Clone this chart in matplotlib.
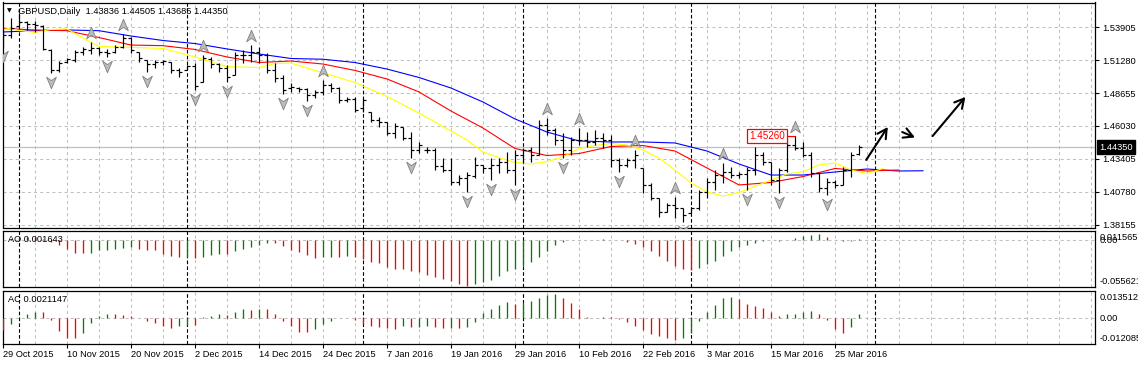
import matplotlib
matplotlib.use("Agg")
import matplotlib.pyplot as plt
from matplotlib.path import Path
from matplotlib.transforms import offset_copy, blended_transform_factory

plt.rcParams['font.family'] = ['Liberation Sans', 'DejaVu Sans']
plt.rcParams['lines.scale_dashes'] = False

# ---------------- data ----------------
symbol_title = "GBPUSD,Daily  1.43836 1.44505 1.43685 1.44350"

opens = [1.5247, 1.5327, 1.5398, 1.5430, 1.5414, 1.5398, 1.5208, 1.5048, 1.5112, 1.5128,
         1.5192, 1.5208, 1.5223, 1.5192, 1.5192, 1.5231, 1.5303, 1.5192, 1.5128, 1.5096,
         1.5112, 1.5112, 1.5048, 1.5048, 1.5080, 1.4953, 1.5136, 1.5096, 1.5064, 1.5009,
         1.5168, 1.5168, 1.5192, 1.5168, 1.5048, 1.4985, 1.4905, 1.4905, 1.4897, 1.4850,
         1.4874, 1.4929, 1.4905, 1.4810, 1.4818, 1.4746, 1.4714, 1.4651, 1.4635, 1.4547,
         1.4595, 1.4508, 1.4412, 1.4412, 1.4412, 1.4285, 1.4253, 1.4158, 1.4189, 1.4205,
         1.4293, 1.4269, 1.4293, 1.4317, 1.4253, 1.4372, 1.4412, 1.4372, 1.4611, 1.4571,
         1.4492, 1.4412, 1.4492, 1.4492, 1.4476, 1.4508, 1.4492, 1.4333, 1.4293, 1.4333,
         1.4269, 1.4134, 1.4030, 1.3919, 1.3975, 1.3951, 1.3911, 1.3951, 1.4078, 1.4158,
         1.4213, 1.4237, 1.4213, 1.4221, 1.4253, 1.4372, 1.4317, 1.4174, 1.4253, 1.4452,
         1.4428, 1.4372, 1.4229, 1.4110, 1.4158, 1.4134, 1.4253, 1.43836]
highs = [1.5367, 1.5462, 1.5502, 1.5438, 1.5438, 1.5406, 1.5216, 1.5120, 1.5144, 1.5208,
         1.5231, 1.5271, 1.5231, 1.5216, 1.5247, 1.5335, 1.5311, 1.5192, 1.5128, 1.5128,
         1.5128, 1.5112, 1.5064, 1.5088, 1.5104, 1.5168, 1.5152, 1.5104, 1.5088, 1.5192,
         1.5208, 1.5247, 1.5231, 1.5184, 1.5104, 1.5009, 1.4945, 1.4913, 1.4905, 1.4889,
         1.4969, 1.4945, 1.4913, 1.4834, 1.4834, 1.4826, 1.4714, 1.4675, 1.4635, 1.4627,
         1.4595, 1.4555, 1.4476, 1.4436, 1.4428, 1.4348, 1.4348, 1.4213, 1.4237, 1.4356,
         1.4293, 1.4348, 1.4348, 1.4396, 1.4412, 1.4428, 1.4436, 1.4651, 1.4667, 1.4587,
         1.4547, 1.4516, 1.4587, 1.4555, 1.4571, 1.4547, 1.4531, 1.4348, 1.4348, 1.4412,
         1.4269, 1.4150, 1.4030, 1.3991, 1.4038, 1.3951, 1.3959, 1.4094, 1.4189, 1.4253,
         1.4309, 1.4277, 1.4237, 1.4277, 1.4436, 1.4396, 1.4317, 1.4269, 1.4508, 1.4526,
         1.4476, 1.4396, 1.4229, 1.4189, 1.4174, 1.4277, 1.4396, 1.44505]
lows = [1.5231, 1.5303, 1.5383, 1.5367, 1.5351, 1.5208, 1.5025, 1.5033, 1.5104, 1.5112,
        1.5168, 1.5176, 1.5168, 1.5152, 1.5184, 1.5223, 1.5184, 1.5112, 1.5033, 1.5064,
        1.5088, 1.5025, 1.4993, 1.5048, 1.4889, 1.4953, 1.5064, 1.5033, 1.4953, 1.5009,
        1.5104, 1.5112, 1.5104, 1.5025, 1.4953, 1.4858, 1.4874, 1.4874, 1.4802, 1.4826,
        1.4850, 1.4874, 1.4786, 1.4794, 1.4714, 1.4714, 1.4635, 1.4595, 1.4531, 1.4508,
        1.4492, 1.4348, 1.4388, 1.4388, 1.4253, 1.4237, 1.4134, 1.4134, 1.4078, 1.4189,
        1.4229, 1.4174, 1.4229, 1.4229, 1.4134, 1.4309, 1.4317, 1.4372, 1.4531, 1.4452,
        1.4348, 1.4372, 1.4452, 1.4436, 1.4452, 1.4428, 1.4277, 1.4237, 1.4277, 1.4269,
        1.4070, 1.4014, 1.3879, 1.3919, 1.3871, 1.3839, 1.3911, 1.3935, 1.4030, 1.4094,
        1.4150, 1.4189, 1.4189, 1.4094, 1.4213, 1.4293, 1.4134, 1.4070, 1.4237, 1.4412,
        1.4356, 1.4197, 1.4078, 1.4054, 1.4110, 1.4134, 1.4197, 1.43685]
closes = [1.5327, 1.5383, 1.5430, 1.5414, 1.5406, 1.5216, 1.5048, 1.5104, 1.5136, 1.5192,
          1.5216, 1.5223, 1.5192, 1.5184, 1.5231, 1.5303, 1.5208, 1.5144, 1.5096, 1.5112,
          1.5120, 1.5048, 1.5033, 1.5080, 1.4921, 1.5144, 1.5096, 1.5064, 1.4993, 1.5168,
          1.5168, 1.5192, 1.5168, 1.5048, 1.4985, 1.4889, 1.4913, 1.4897, 1.4850, 1.4874,
          1.4929, 1.4905, 1.4810, 1.4818, 1.4730, 1.4810, 1.4651, 1.4635, 1.4547, 1.4603,
          1.4508, 1.4412, 1.4452, 1.4412, 1.4285, 1.4253, 1.4158, 1.4189, 1.4213, 1.4293,
          1.4269, 1.4293, 1.4317, 1.4253, 1.4372, 1.4412, 1.4372, 1.4611, 1.4571, 1.4492,
          1.4412, 1.4492, 1.4492, 1.4476, 1.4508, 1.4492, 1.4333, 1.4293, 1.4333, 1.4372,
          1.4134, 1.4030, 1.3919, 1.3975, 1.3951, 1.3895, 1.3951, 1.4078, 1.4158, 1.4213,
          1.4237, 1.4213, 1.4221, 1.4253, 1.4372, 1.4317, 1.4174, 1.4253, 1.4452, 1.4428,
          1.4372, 1.4229, 1.4110, 1.4158, 1.4134, 1.4253, 1.4372, 1.44350]

# Alligator lines (bar index, value)
jaw_bars = [0, 4, 8, 12, 16, 20, 24, 28, 32, 36, 40, 44, 48, 52, 56, 60, 64, 68, 72, 76,
            80, 84, 88, 92, 96, 100, 104, 108, 112, 115]
jaw_vals = [1.5351, 1.5361, 1.5367, 1.5361, 1.5319, 1.5283, 1.5259, 1.5216, 1.5176, 1.5140,
            1.5134, 1.5108, 1.5056, 1.4989, 1.4905, 1.4794, 1.4659, 1.4555, 1.4484, 1.4476,
            1.4476, 1.4468, 1.4404, 1.4301, 1.4213, 1.4213, 1.4237, 1.4261, 1.4245, 1.4247]
teeth_bars = [0, 4, 8, 12, 16, 20, 24, 28, 32, 36, 40, 44, 48, 52, 56, 60, 64, 68, 72, 76,
              80, 84, 88, 92, 96, 100, 104, 108, 112]
teeth_vals = [1.5379, 1.5367, 1.5361, 1.5307, 1.5247, 1.5242, 1.5212, 1.5152, 1.5108, 1.5120,
              1.5096, 1.5045, 1.4977, 1.4874, 1.4722, 1.4587, 1.4424, 1.4368, 1.4384, 1.4440,
              1.4448, 1.4404, 1.4269, 1.4134, 1.4154, 1.4201, 1.4265, 1.4245, 1.4253]
lips_bars = [0, 2, 4, 6, 8, 10, 12, 16, 20, 24, 28, 32, 34, 36, 40, 44, 48, 52, 56, 58,
             60, 62, 64, 66, 68, 70, 72, 74, 76, 78, 80, 82, 84, 86, 88, 90, 92, 94, 96, 98,
             100, 102, 104, 106, 108, 110]
lips_vals = [1.5387, 1.5363, 1.5347, 1.5371, 1.5375, 1.5303, 1.5235, 1.5229, 1.5220, 1.5152,
             1.5075, 1.5068, 1.5100, 1.5104, 1.5025, 1.4949, 1.4838, 1.4706, 1.4563, 1.4492,
             1.4396, 1.4352, 1.4313, 1.4301, 1.4319, 1.4359, 1.4424, 1.4448, 1.4464, 1.4452,
             1.4412, 1.4348, 1.4253, 1.4150, 1.4078, 1.4046, 1.4074, 1.4122, 1.4174, 1.4221,
             1.4240, 1.4293, 1.4309, 1.4253, 1.4225, 1.4265]

up_fractals = [11, 15, 25, 31, 40, 68, 72, 79, 84, 90, 99]
down_fractals = [0, 6, 13, 18, 24, 28, 35, 38, 51, 58, 61, 64, 70, 77, 85, 93, 97, 103]

ao_vals = [0.0003, 0.0015, 0.0030, 0.0040, 0.0035, 0.0010, -0.0020, -0.0053, -0.0101, -0.0147,
           -0.0154, -0.0147, -0.0122, -0.0114, -0.0101, -0.0090, -0.0084, -0.0101, -0.0114, -0.0117,
           -0.0166, -0.0183, -0.0199, -0.0195, -0.0208, -0.0195, -0.0175, -0.0162, -0.0166, -0.0134,
           -0.0101, -0.0086, -0.0061, -0.0032, -0.0035, -0.0073, -0.0114, -0.0142, -0.0175, -0.0208,
           -0.0205, -0.0196, -0.0200, -0.0187, -0.0195, -0.0227, -0.0257, -0.0276, -0.0318, -0.0337,
           -0.0340, -0.0366, -0.0379, -0.0419, -0.0440, -0.0460, -0.0489, -0.0520, -0.0550, -0.0520,
           -0.0501, -0.0468, -0.0428, -0.0366, -0.0337, -0.0305, -0.0257, -0.0195, -0.0126, -0.0061,
           -0.0020, 0.0003, 0.0008, 0.0002, -0.0003, 0.0010, 0.0004, -0.0003, -0.0020, -0.0044,
           -0.0086, -0.0134, -0.0183, -0.0244, -0.0309, -0.0337, -0.0358, -0.0330, -0.0288, -0.0248,
           -0.0183, -0.0126, -0.0086, -0.0061, -0.0032, -0.0012, 0.0003, -0.0010, 0.0005, 0.0029,
           0.0049, 0.0057, 0.0070, 0.0037, 0.0005, -0.0015, -0.0008, 0.001643]
ac_vals = [-0.0054, -0.0026, 0.0005, 0.0023, 0.0033, 0.0031, -0.0005, -0.0062, -0.0092, -0.0093,
           -0.0069, -0.0021, 0.0011, 0.0024, 0.0023, 0.0019, 0.0011, 0.0002, -0.0013, -0.0021,
           -0.0037, -0.0045, -0.0037, -0.0030, -0.0033, 0.0008, 0.0013, 0.0024, 0.0018, 0.0030,
           0.0045, 0.0040, 0.0047, 0.0045, 0.0022, -0.0011, -0.0036, -0.0063, -0.0065, -0.0052,
           -0.0028, -0.0011, 0.0000, 0.0002, -0.0005, -0.0028, -0.0036, -0.0041, -0.0048, -0.0050,
           -0.0036, -0.0041, -0.0040, -0.0036, -0.0041, -0.0045, -0.0044, -0.0045, -0.0043, -0.0015,
           0.0025, 0.0045, 0.0065, 0.0080, 0.0070, 0.0075, 0.0085, 0.0098, 0.0115, 0.0118,
           0.0099, 0.0073, 0.0045, 0.0005, 0.0003, 0.0009, 0.0006, -0.0003, -0.0019, -0.0036,
           -0.0057, -0.0073, -0.0085, -0.0093, -0.0102, -0.0093, -0.0068, -0.0011, 0.0029, 0.0066,
           0.0099, 0.0105, 0.0094, 0.0069, 0.0061, 0.0053, 0.0032, 0.0013, 0.0021, 0.0024,
           0.0029, 0.0034, 0.0024, -0.0005, -0.0052, -0.0068, -0.0041, 0.0021147]

date_labels = ["29 Oct 2015", "10 Nov 2015", "20 Nov 2015", "2 Dec 2015", "14 Dec 2015",
               "24 Dec 2015", "7 Jan 2016", "19 Jan 2016", "29 Jan 2016", "10 Feb 2016",
               "22 Feb 2016", "3 Mar 2016", "15 Mar 2016", "25 Mar 2016"]
date_label_bars = [0, 8, 16, 24, 32, 40, 48, 56, 64, 72, 80, 88, 96, 104]
month_start_bars = [2, 23, 45, 65, 86, 109]

price_levels = [1.53905, 1.51280, 1.48655, 1.46030, 1.43405, 1.40780, 1.38155]
price_range = (1.37956, 1.55854)
current_price = 1.44350
marked_high = (99, 1.45260)
ao_range = (-0.055621, 0.011565)
ac_range = (-0.012085, 0.013512)
ao_title = "AO 0.001643"
ac_title = "AC 0.0021147"
n_slots = 136.5
drawn_arrows = [((107.9, 1.4333), (110.6, 1.4595)),
                ((112.4, 1.4555), (114.0, 1.4512)),
                ((116.2, 1.4523), (120.3, 1.4834))]

# ---------------- figure ----------------
W, H = 1138, 365
fig = plt.figure(figsize=(W / 100, H / 100), dpi=100)


def px_axes(x0, y0, x1, y1):
    return fig.add_axes([x0 / W, 1 - y1 / H, (x1 - x0) / W, (y1 - y0) / H])


main = px_axes(2.5, 2.5, 1095, 227.5)
ao = px_axes(2.5, 230.5, 1095, 287)
ac = px_axes(2.5, 290.5, 1095, 343.5)

FS = 6.7
GRID = '#c0c0c0'
gdash = (0, (2.2, 2.2))
sdash = (0, (2.6, 1.6))

for ax in (main, ao, ac):
    ax.set_xlim(-0.06, n_slots)
    for s in ax.spines.values():
        s.set_color('black')
        s.set_linewidth(0.9)
    for b in range(0, int(n_slots) + 1, 4):
        ax.axvline(b, color=GRID, lw=0.75, ls=gdash, zorder=0)
    for b in month_start_bars:
        ax.axvline(b, color='black', lw=0.8, ls=sdash, zorder=1)
    ax.tick_params(left=False, labelleft=False)

# main panel
main.set_ylim(*price_range)
for p in price_levels:
    main.axhline(p, color=GRID, lw=0.75, ls=gdash, zorder=0)
main.axhline(current_price, color=GRID, lw=0.9, zorder=0.5)

main.plot(jaw_bars, jaw_vals, color='#0000ff', lw=0.8, zorder=2)
main.plot(teeth_bars, teeth_vals, color='#ff0000', lw=0.8, zorder=2)
main.plot(lips_bars, lips_vals, color='#ffff00', lw=0.8, zorder=2)

idx = list(range(len(closes)))
main.vlines(idx, lows, highs, color='black', lw=0.85, zorder=3)
main.hlines(opens, [i - 0.42 for i in idx], idx, color='black', lw=0.85, zorder=3)
main.hlines(closes, idx, [i + 0.42 for i in idx], color='black', lw=0.85, zorder=3)

up_path = Path([(0, 1), (0.78, -0.85), (0, -0.3), (-0.78, -0.85), (0, 1)],
               [Path.MOVETO, Path.LINETO, Path.LINETO, Path.LINETO, Path.CLOSEPOLY])
down_path = Path([(0, -1), (0.78, 0.85), (0, 0.3), (-0.78, 0.85), (0, -1)],
                 [Path.MOVETO, Path.LINETO, Path.LINETO, Path.LINETO, Path.CLOSEPOLY])
up_tr = offset_copy(main.transData, fig=fig, x=0, y=9, units='dots')
dn_tr = offset_copy(main.transData, fig=fig, x=0, y=-9, units='dots')
main.plot(up_fractals, [highs[i] for i in up_fractals], ls='none', marker=up_path,
          ms=9, mfc='#bcbcbc', mec='#808080', mew=0.6, transform=up_tr, zorder=4)
main.plot(down_fractals, [lows[i] for i in down_fractals], ls='none', marker=down_path,
          ms=9, mfc='#bcbcbc', mec='#808080', mew=0.6, transform=dn_tr, zorder=4)

# price axis on right
main.yaxis.tick_right()
main.set_yticks(price_levels)
main.set_yticklabels([f"{p:.5f}" for p in price_levels])
main.tick_params(axis='y', right=True, labelright=True, direction='out', length=3,
                 width=0.8, pad=2.5, labelsize=FS)
main.tick_params(axis='x', bottom=False, labelbottom=False)

main.annotate(f"{current_price:.5f}", xy=(1.0, current_price),
              xycoords=blended_transform_factory(main.transAxes, main.transData),
              xytext=(4, 0), textcoords='offset pixels', ha='left', va='center',
              fontsize=FS, color='white', annotation_clip=False,
              bbox=dict(boxstyle='square,pad=0.25', fc='black', ec='black'))

# marked high label
main.plot([marked_high[0] - 1.1, marked_high[0]], [marked_high[1]] * 2, color='#ff0000', lw=0.9, zorder=4)
main.annotate(f"{marked_high[1]:.5f}", xy=marked_high, xytext=(-10, 0), textcoords='offset pixels',
              ha='right', va='center', fontsize=FS + 0.4, color='#ff0000', zorder=5,
              bbox=dict(boxstyle='square,pad=0.2', fc='white', ec='#ff0000', lw=0.9))

# hand-drawn arrows
for start, end in drawn_arrows:
    main.annotate('', xy=end, xytext=start, annotation_clip=False,
                  arrowprops=dict(arrowstyle='->,head_length=0.55,head_width=0.3',
                                  color='black', lw=1.5, shrinkA=0, shrinkB=0,
                                  mutation_scale=12))

# title
fig.text(9.5 / W, 1 - 11 / H, "\u25bc", fontsize=4.5, ha='center', va='center',
         family='DejaVu Sans', color='black')
fig.text(18 / W, 1 - 11 / H, symbol_title, fontsize=FS, ha='left', va='center')

# AO / AC panels
for ax, vals, rng, title in ((ao, ao_vals, ao_range, ao_title), (ac, ac_vals, ac_range, ac_title)):
    ax.set_ylim(*rng)
    ax.axhline(0, color=GRID, lw=0.75, ls=gdash, zorder=0)
    cols = []
    for i, v in enumerate(vals):
        prev = vals[i - 1] if i > 0 else v + 1
        cols.append('#008000' if v > prev else '#ff0000')
    ax.vlines(idx, 0, vals, colors=cols, lw=0.95, zorder=3)
    ax.set_yticks([])
    ax.annotate(title, xy=(0, 1), xycoords='axes fraction', xytext=(5, -9),
                textcoords='offset pixels', fontsize=FS, ha='left', va='center', zorder=5)
    tr = blended_transform_factory(ax.transAxes, ax.transData)
    ax.annotate(f"{rng[1]:.6f}", xy=(1.0, rng[1]), xycoords=tr, xytext=(5, -7),
                textcoords='offset pixels', ha='left', va='center', fontsize=FS,
                annotation_clip=False)
    ax.annotate("0.00", xy=(1.0, 0), xycoords=tr, xytext=(5, 0),
                textcoords='offset pixels', ha='left', va='center', fontsize=FS,
                annotation_clip=False)
    ax.annotate(f"{rng[0]:.6f}", xy=(1.0, rng[0]), xycoords=tr, xytext=(5, 5),
                textcoords='offset pixels', ha='left', va='center', fontsize=FS,
                annotation_clip=False)

ao.tick_params(axis='x', bottom=False, labelbottom=False)
ac.set_xticks(date_label_bars)
ac.set_xticklabels(date_labels)
ac.tick_params(axis='x', direction='out', length=3, width=0.8, pad=2, labelsize=FS)
for lab in ac.get_xticklabels():
    lab.set_ha('left')

fig.savefig("out.png", dpi=100, facecolor='white')
